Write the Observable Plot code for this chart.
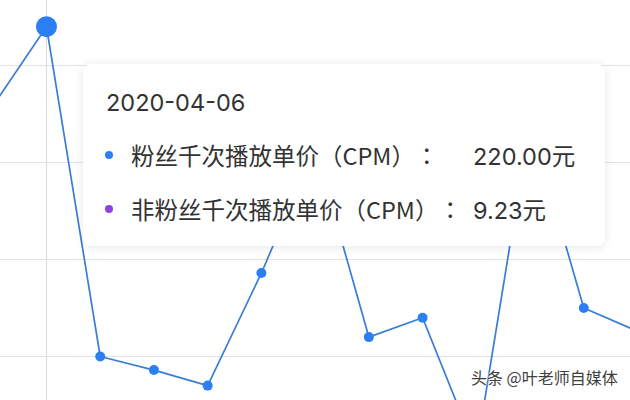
<!DOCTYPE html>
<html>
<head>
<meta charset="utf-8">
<script src="https://cdn.jsdelivr.net/npm/d3@7"></script>
<script src="https://cdn.jsdelivr.net/npm/@observablehq/plot@0.6"></script>
<style>
  html, body { margin: 0; padding: 0; background: #fff; }
  #wrap { position: relative; width: 630px; height: 400px; overflow: hidden; font-family: "Noto Sans CJK SC", "Noto Sans", sans-serif; }
  #tip { position: absolute; left: 83px; top: 64px; width: 522px; height: 182px; background: #fff; border-radius: 8px;
         box-shadow: 0 1px 10px rgba(0,0,0,0.10); color: #333; font-size: 23.5px; text-spacing-trim: space-all; }
  #tip .row { position: absolute; left: 0; height: 30px; line-height: 30px; white-space: nowrap; width: 100%; }
  #tip .dot { position: absolute; left: 22px; top: 11px; width: 8px; height: 8px; border-radius: 50%; }
  #tip .lab { position: absolute; left: 48px; text-spacing-trim: space-all; }
  #tip .colon { font-family: "Noto Sans CJK TC", "Noto Sans CJK SC", sans-serif; }
  #tip .num { font-family: "Inter", "Noto Sans CJK SC", sans-serif; }
  #tip .val { position: absolute; left: 390px; }
  #wm { position: absolute; left: 471px; top: 365px; font-size: 16px; color: #3e3e3e; white-space: nowrap;
        text-shadow: 0 0 2px #fff, 0 0 2px #fff; font-family: "Noto Sans CJK SC", sans-serif; }
</style>
</head>
<body>
<div id="wrap"></div>
<script>
// Data
const dates = ["2020-04-05","2020-04-06","2020-04-07","2020-04-08","2020-04-09","2020-04-10","2020-04-11","2020-04-12","2020-04-13","2020-04-14","2020-04-15","2020-04-16","2020-04-17"];
const fanCPM = [179, 220, 50, 43, 35, 93, 158, 60, 70, 1, 171, 75, 63];
const yTicks = [50, 100, 150, 200];
const hoverDate = "2020-04-06";
const seriesNames = ["粉丝千次播放单价（CPM）", "非粉丝千次播放单价（CPM）"];
const hoverValues = ["220.00", "9.23"];
const unit = "元";
const seriesColors = ["#2b7ff2", "#8e3fe8"];
const watermark = "头条 @叶老师自媒体";

const parse = d3.utcParse("%Y-%m-%d");
const data = dates.map((d, i) => ({date: parse(d), v: fanCPM[i]}));
const hover = data.find(d => +d.date === +parse(hoverDate));

const chart = Plot.plot({
  width: 630,
  height: 400,
  margin: 0,
  x: {type: "utc", domain: [parse(dates[0]), parse(dates[dates.length - 1])], range: [-7.75, 637], axis: null},
  y: {domain: [0, 200], range: [453, 65], axis: null},
  marks: [
    Plot.ruleY(yTicks, {stroke: "#e3e3e3", strokeWidth: 1.2, strokeOpacity: 1}),
    Plot.ruleX([hover.date], {stroke: "#dcdcdc", strokeWidth: 1.2}),
    Plot.line(data, {x: "date", y: "v", stroke: "#3a7dd4", strokeWidth: 1.7}),
    Plot.dot(data.filter(d => d !== hover), {x: "date", y: "v", r: 5, fill: "#2b7ff2"}),
    Plot.dot([hover], {x: "date", y: "v", r: 10.5, fill: "#2b7ff2"})
  ]
});
const wrap = document.getElementById("wrap");
wrap.appendChild(chart);

const tip = document.createElement("div");
tip.id = "tip";
let html = `<div class="row" style="top:24px"><span class="num" style="position:absolute;left:23px">${hoverDate}</span></div>`;
const tops = [76, 130];
seriesNames.forEach((n, i) => {
  html += `<div class="row" style="top:${tops[i]}px"><span class="dot" style="background:${seriesColors[i]}"></span>` +
          `<span class="lab">${n}<span class="colon">：</span></span>` +
          `<span class="val"><span class="num">${hoverValues[i]}</span>${unit}</span></div>`;
});
tip.innerHTML = html;
wrap.appendChild(tip);

const wm = document.createElement("div");
wm.id = "wm";
wm.textContent = watermark;
wrap.appendChild(wm);
</script>
</body>
</html>
